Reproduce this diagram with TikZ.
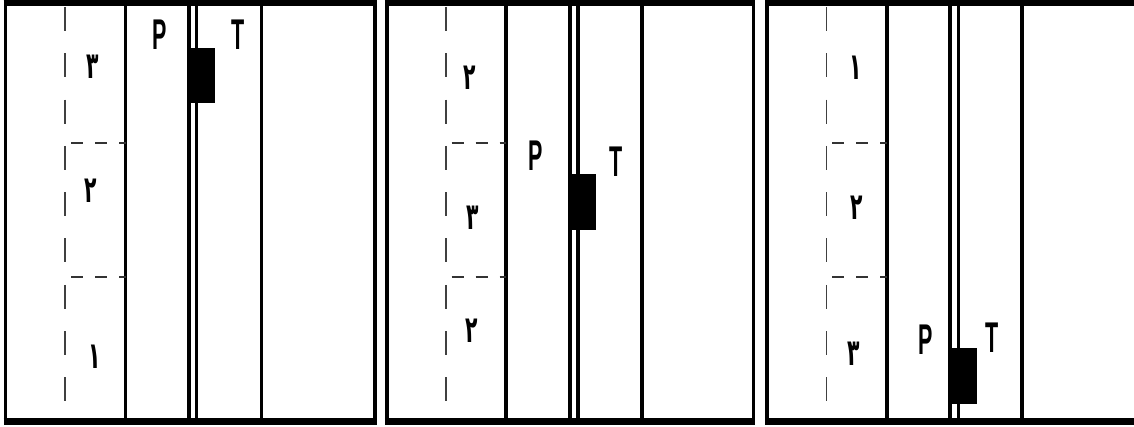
\documentclass[tikz,border=0pt]{standalone}
\usepackage{fontspec}
\setmainfont{Liberation Sans}
\newfontfamily\arabicfont[Script=Arabic]{DejaVu Sans}
\TeXXeTstate=1
\tikzset{
  rail/.style={line width=6.8pt},
  wall/.style={line width=3.6pt},
  vdash/.style={line width=1.9pt, black!75, dash pattern=on 24pt off 22.3pt, dash phase=-1pt},
  hdash/.style={line width=1.9pt, black!80, dash pattern=on 12pt off 12pt},
  blk/.style={fill=black, draw=none},
  lbl/.style={inner sep=0pt, font=\fontsize{43}{43}\selectfont\bfseries},
  dig/.style={inner sep=0pt, font=\fontsize{37}{37}\arabicfont\bfseries},
}
\newcommand\lt[1]{\scalebox{0.5}[1]{#1}}
\newcommand\dg[1]{\scalebox{0.55}[1]{\beginR #1\endR}}
\begin{document}
\begin{tikzpicture}[x=1pt,y=-1pt]
\useasboundingbox (0,0) rectangle (1134,427);
% ---------- panel 1 ----------
\begin{scope}[xshift=5.5pt]
  \draw[rail] (-1.8,3) -- (371.3,3);
  \draw[rail] (-1.8,421.5) -- (371.3,421.5);
  \draw[wall] (0,0) -- (0,425);
  \draw[wall] (369.5,0) -- (369.5,425);
  \draw[vdash] (59.5,6) -- (59.5,418);
  \draw[wall] (120,6) -- (120,418);
  \draw[wall] (183.5,6) -- (183.5,418);
  \draw[wall] (191,6) -- (191,418);
  \draw[wall] (256,6) -- (256,418);
  \draw[hdash] (65.5,143) -- (120,143);
  \draw[hdash] (65.5,277) -- (120,277);
  \fill[blk] (182,48) rectangle (209.5,103.5);
\end{scope}
\node[lbl] (p1) at (160,35) {\lt{P}};
\node[lbl] (t1) at (238.5,35) {\lt{T}};
\node[dig] (a1) at (93,67) {\dg{٣}};
\node[dig] (a2) at (91,191) {\dg{٢}};
\node[dig] (a3) at (95,357) {\dg{١}};
% ---------- panel 2 ----------
\begin{scope}[xshift=386.7pt]
  \draw[rail] (-1.8,3) -- (368.4,3);
  \draw[rail] (-1.8,421.5) -- (368.4,421.5);
  \draw[wall] (0,0) -- (0,425);
  \draw[wall] (366.6,0) -- (366.6,425);
  \draw[vdash] (59.5,6) -- (59.5,418);
  \draw[wall] (119.5,6) -- (119.5,418);
  \draw[wall] (183.3,6) -- (183.3,418);
  \draw[wall] (191.3,6) -- (191.3,418);
  \draw[wall] (255,6) -- (255,418);
  \draw[hdash] (65,143) -- (119.5,143);
  \draw[hdash] (65,277) -- (119.5,277);
  \fill[blk] (182,174) rectangle (209.5,230);
\end{scope}
\node[lbl] (p2) at (536,156) {\lt{P}};
\node[lbl] (t2) at (616,162) {\lt{T}};
\node[dig] (b1) at (470,78) {\dg{٢}};
\node[dig] (b2) at (473,218) {\dg{٣}};
\node[dig] (b3) at (472,331) {\dg{٢}};
% ---------- panel 3 ----------
\begin{scope}[xshift=767pt]
  \draw[rail] (-1.8,3) -- (367,3);
  \draw[rail] (-1.8,421.5) -- (367,421.5);
  \draw[wall] (0,0) -- (0,425);
  \draw[vdash] (59.5,6) -- (59.5,418);
  \draw[wall] (119.7,6) -- (119.7,418);
  \draw[wall] (183,6) -- (183,418);
  \draw[wall] (191.3,6) -- (191.3,418);
  \draw[wall] (254.7,6) -- (254.7,418);
  \draw[hdash] (65,143) -- (119.7,143);
  \draw[hdash] (65,277) -- (119.7,277);
  \fill[blk] (182,348) rectangle (210,404);
\end{scope}
\node[lbl] (p3) at (926,340) {\lt{P}};
\node[lbl] (t3) at (992.5,338) {\lt{T}};
\node[dig] (c1) at (856,67.5) {\dg{١}};
\node[dig] (c2) at (857,208) {\dg{٢}};
\node[dig] (c3) at (854,354) {\dg{٣}};
\end{tikzpicture}
\end{document}
